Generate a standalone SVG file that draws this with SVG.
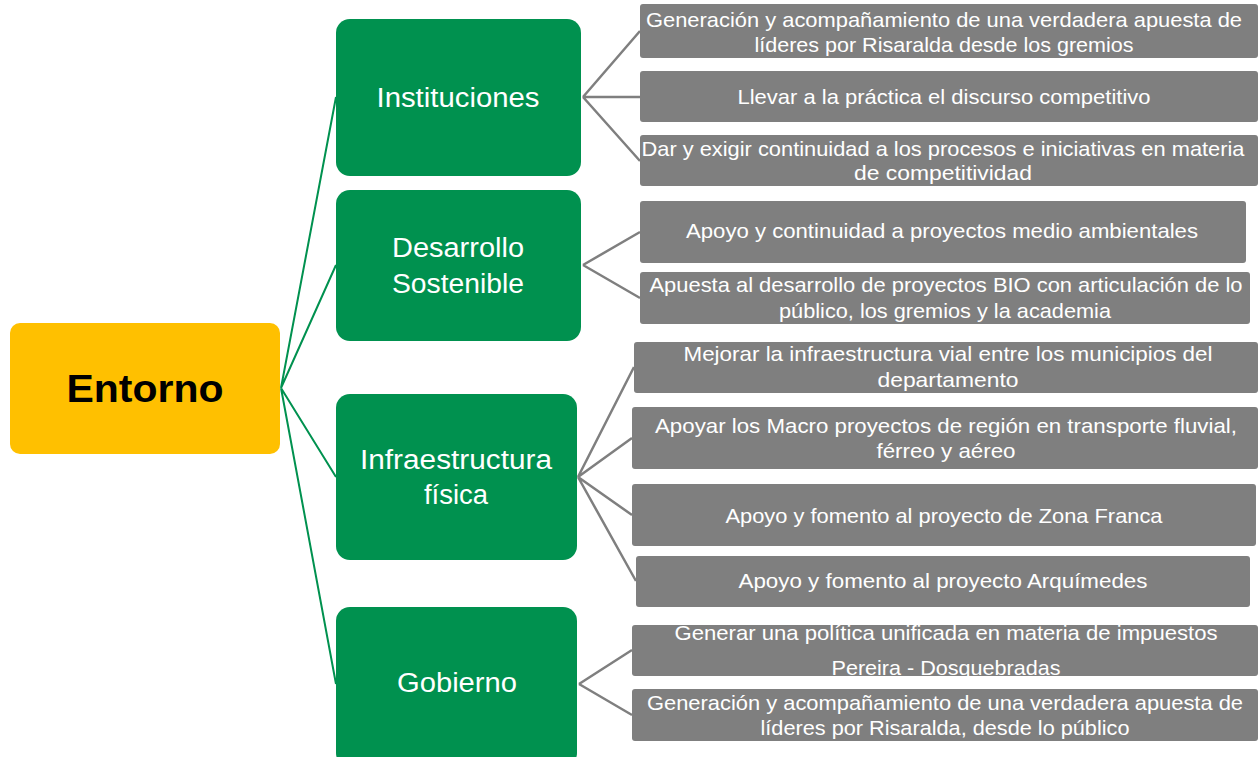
<svg xmlns="http://www.w3.org/2000/svg" width="1259" height="757" viewBox="0 0 1259 757">
<style>
.root{fill:#FFC000}
.grn{fill:#00914F}
.gry{fill:#7F7F7F}
.gt{font-family:"Liberation Sans",Arial,sans-serif;font-size:27px;fill:#fff;text-anchor:middle}
.t{font-family:"Liberation Sans",Arial,sans-serif;font-size:21px;fill:#fff;text-anchor:middle}
.rt{font-family:"Liberation Sans",Arial,sans-serif;font-size:38px;font-weight:bold;fill:#000;text-anchor:middle}
.cg{stroke:#00914F;stroke-width:2;fill:none}
.cy{stroke:#7F7F7F;stroke-width:2.5;fill:none}
</style>
<rect width="1259" height="757" fill="#fff"/>
<g id="connectors">
<path class="cg" d="M281,388 L336,97 M281,388 L336,265 M281,388 L336,477 M281,388 L336,684"/>
<path class="cy" d="M583,97 L640,31 M583,97 L640,97 M583,97 L640,161"/>
<path class="cy" d="M583,265 L640,232 M583,265 L640,298"/>
<path class="cy" d="M578,477 L634,367 M578,477 L632,438 M578,477 L632,515 M578,477 L636,581"/>
<path class="cy" d="M579,684 L632,650 M579,684 L632,715"/>
</g>
<g id="entorno">
<rect class="root" x="10" y="323" width="270" height="131" rx="10"/>
<text class="rt" x="145" y="402" textLength="157" lengthAdjust="spacingAndGlyphs">Entorno</text>
</g>
<g id="instituciones">
<rect class="grn" x="336" y="19" width="245" height="157" rx="14"/>
<text class="gt" x="458" y="107" textLength="163" lengthAdjust="spacingAndGlyphs">Instituciones</text>
</g>
<g id="desarrollo">
<rect class="grn" x="336" y="190" width="245" height="151" rx="14"/>
<text class="gt" x="458" y="257" textLength="132" lengthAdjust="spacingAndGlyphs">Desarrollo</text>
<text class="gt" x="458" y="293" textLength="132" lengthAdjust="spacingAndGlyphs">Sostenible</text>
</g>
<g id="infraestructura">
<rect class="grn" x="336" y="394" width="241" height="166" rx="14"/>
<text class="gt" x="456" y="469" textLength="192" lengthAdjust="spacingAndGlyphs">Infraestructura</text>
<text class="gt" x="456" y="504" textLength="64" lengthAdjust="spacingAndGlyphs">física</text>
</g>
<g id="gobierno">
<rect class="grn" x="336" y="607" width="241" height="160" rx="14"/>
<text class="gt" x="457" y="692" textLength="120" lengthAdjust="spacingAndGlyphs">Gobierno</text>
</g>
<g id="n1">
<rect class="gry" x="640" y="4" width="618" height="54" rx="3"/>
<text class="t" x="944" y="27" textLength="596" lengthAdjust="spacingAndGlyphs">Generación y acompañamiento de una verdadera apuesta de</text>
<text class="t" x="944" y="52" textLength="379" lengthAdjust="spacingAndGlyphs">líderes por Risaralda desde los gremios</text>
</g>
<g id="n2">
<rect class="gry" x="640" y="71" width="618" height="51" rx="3"/>
<text class="t" x="944" y="104" textLength="413" lengthAdjust="spacingAndGlyphs">Llevar a la práctica el discurso competitivo</text>
</g>
<g id="n3">
<rect class="gry" x="640" y="135" width="618" height="51" rx="3"/>
<text class="t" x="943" y="156" textLength="603" lengthAdjust="spacingAndGlyphs">Dar y exigir continuidad a los procesos e iniciativas en materia</text>
<text class="t" x="943" y="180" textLength="178" lengthAdjust="spacingAndGlyphs">de competitividad</text>
</g>
<g id="n4">
<rect class="gry" x="640" y="201" width="606" height="62" rx="3"/>
<text class="t" x="942" y="238" textLength="512" lengthAdjust="spacingAndGlyphs">Apoyo y continuidad a proyectos medio ambientales</text>
</g>
<g id="n5">
<rect class="gry" x="640" y="272" width="610" height="52" rx="3"/>
<text class="t" x="946" y="292" textLength="593" lengthAdjust="spacingAndGlyphs">Apuesta al desarrollo de proyectos BIO con articulación de lo</text>
<text class="t" x="945" y="318" textLength="332" lengthAdjust="spacingAndGlyphs">público, los gremios y la academia</text>
</g>
<g id="n6">
<rect class="gry" x="634" y="342" width="624" height="51" rx="3"/>
<text class="t" x="948" y="361" textLength="529" lengthAdjust="spacingAndGlyphs">Mejorar la infraestructura vial entre los municipios del</text>
<text class="t" x="948" y="387" textLength="141" lengthAdjust="spacingAndGlyphs">departamento</text>
</g>
<g id="n7">
<rect class="gry" x="632" y="407" width="626" height="62" rx="3"/>
<text class="t" x="946" y="433" textLength="582" lengthAdjust="spacingAndGlyphs">Apoyar los Macro proyectos de región en transporte fluvial,</text>
<text class="t" x="946" y="458" textLength="139" lengthAdjust="spacingAndGlyphs">férreo y aéreo</text>
</g>
<g id="n8">
<rect class="gry" x="632" y="484" width="624" height="62" rx="3"/>
<text class="t" x="944" y="523" textLength="437" lengthAdjust="spacingAndGlyphs">Apoyo y fomento al proyecto de Zona Franca</text>
</g>
<g id="n9">
<rect class="gry" x="636" y="556" width="614" height="51" rx="3"/>
<text class="t" x="943" y="588" textLength="409" lengthAdjust="spacingAndGlyphs">Apoyo y fomento al proyecto Arquímedes</text>
</g>
<g id="n10">
<rect class="gry" x="632" y="625" width="626" height="51" rx="3"/>
<text class="t" x="946" y="640" textLength="543" lengthAdjust="spacingAndGlyphs">Generar una política unificada en materia de impuestos</text>
<text class="t" x="946" y="675" textLength="229" lengthAdjust="spacingAndGlyphs">Pereira - Dosquebradas</text>
</g>
<g id="n11">
<rect class="gry" x="632" y="689" width="626" height="52" rx="3"/>
<text class="t" x="945" y="710" textLength="596" lengthAdjust="spacingAndGlyphs">Generación y acompañamiento de una verdadera apuesta de</text>
<text class="t" x="945" y="735" textLength="369" lengthAdjust="spacingAndGlyphs">líderes por Risaralda, desde lo público</text>
</g>
</svg>
